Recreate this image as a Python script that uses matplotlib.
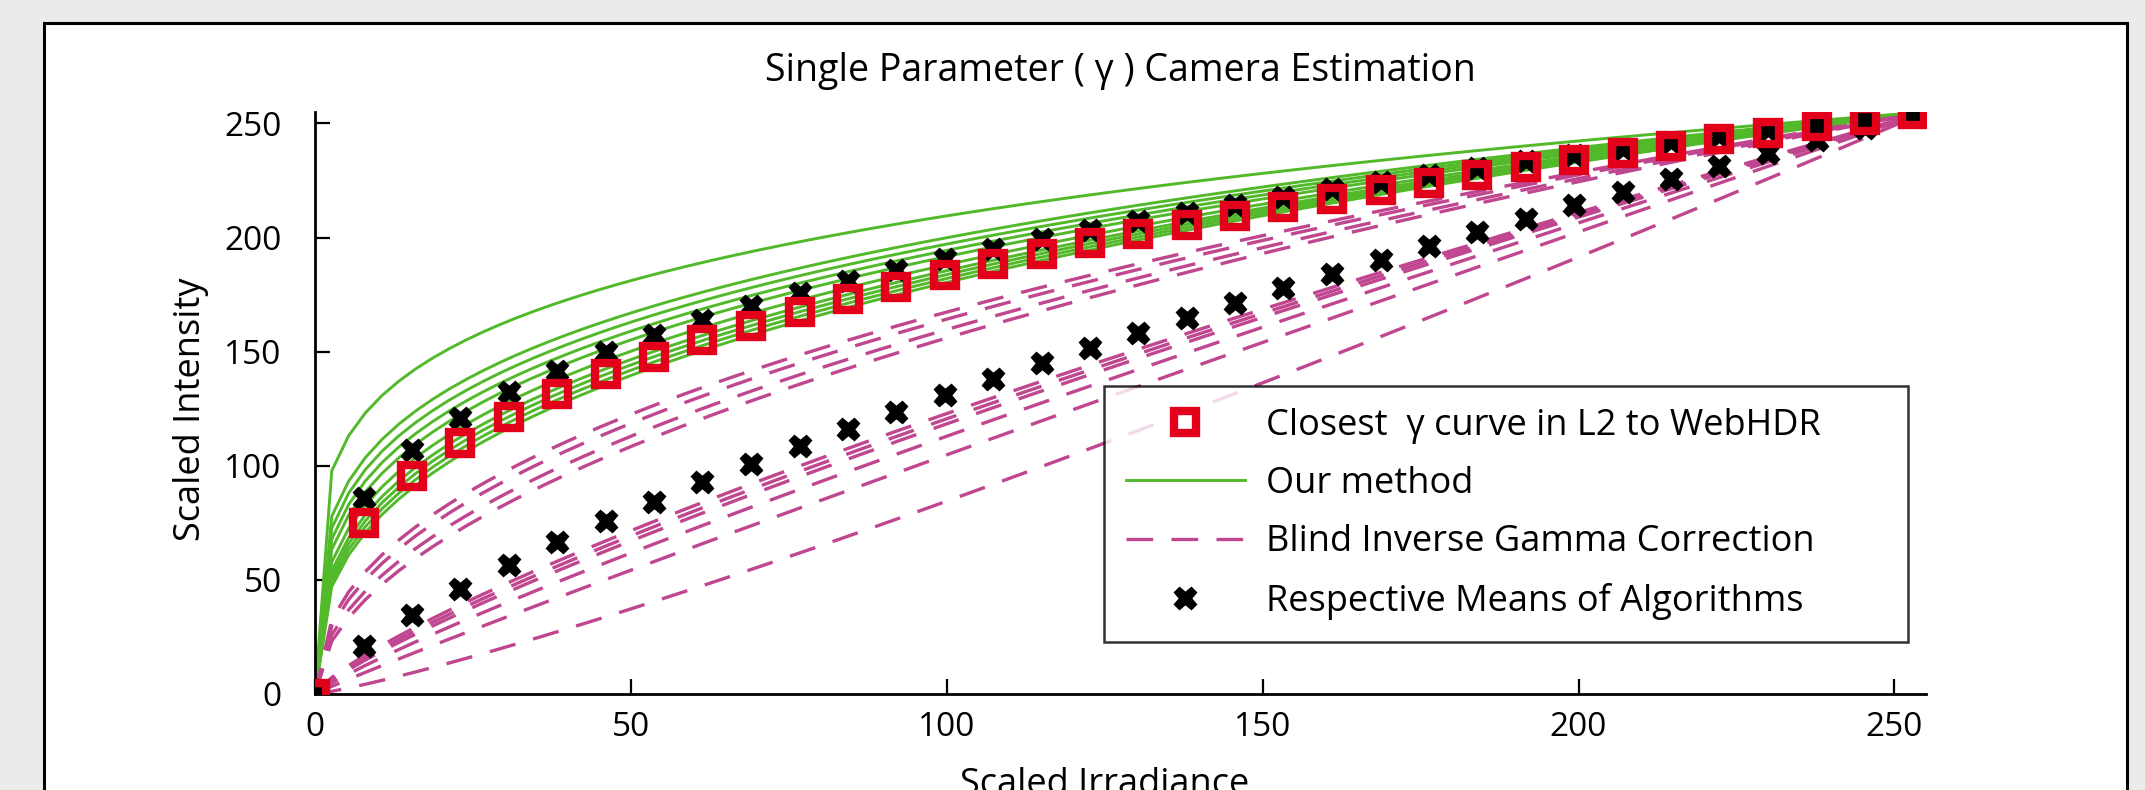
import numpy as np
import matplotlib
matplotlib.use("Agg")
import matplotlib.pyplot as plt
from matplotlib.patches import Rectangle

plt.rcParams["font.family"] = ["Open Sans", "DejaVu Sans"]

# gamma exponents of the per-image curves (y = 255 * (x/255) ** g)
green_gammas = [0.21, 0.26, 0.275, 0.29, 0.305, 0.325, 0.34, 0.35, 0.36, 0.37]
magenta_gammas = [0.45, 0.47, 0.50, 0.525, 0.78, 0.80, 0.82, 0.87, 0.95, 1.18]

# marker sample positions (scaled irradiance)
marker_x = [0, 7.7, 15.3, 23.0, 30.7, 38.3, 46.0, 53.7, 61.3, 69.0, 76.7,
            84.3, 92.0, 99.7, 107.3, 115.0, 122.7, 130.3, 138.0, 145.7, 153.3,
            161.0, 168.7, 176.3, 184.0, 191.7, 199.3, 207.0, 214.7, 222.3,
            230.0, 237.7, 245.3, 253.0]
closest_gamma_y = [0, 74.8, 95.3, 109.9, 121.5, 131.4, 140.0, 147.8, 154.9,
                   161.4, 167.4, 173.1, 178.5, 183.5, 188.4, 193.0, 197.4,
                   201.6, 205.7, 209.6, 213.4, 217.1, 220.7, 224.1, 227.5,
                   230.8, 233.9, 237.0, 240.1, 243.0, 245.9, 248.8, 251.6, 254.3]
ours_mean_y = [0, 86.0, 106.7, 120.9, 132.2, 141.7, 150.0, 157.3, 163.9, 170.0,
               175.7, 180.9, 185.9, 190.6, 195.0, 199.2, 203.2, 207.1, 210.8,
               214.4, 217.8, 221.1, 224.3, 227.4, 230.4, 233.4, 236.3, 239.0,
               241.7, 244.4, 247.0, 249.5, 252.0, 254.4]
blind_mean_y = [0, 21.2, 34.7, 46.2, 56.7, 66.4, 75.6, 84.3, 92.7, 100.8, 108.6,
                116.3, 123.7, 130.9, 138.0, 144.9, 151.7, 158.3, 164.9, 171.4,
                177.7, 184.0, 190.1, 196.2, 202.3, 208.2, 214.1, 219.9, 225.6,
                231.4, 237.0, 242.6, 248.1, 253.6]

GREEN = "#52b92b"
MAGENTA = "#c0468f"
RED = "#e2001a"

W, H = 2145, 790
fig = plt.figure(figsize=(W / 100, H / 100), dpi=100, facecolor="#ebebeb")
# white panel with black frame (bottom runs off the image)
panel = Rectangle((44 / W, -0.05), (2127 - 44) / W, 1.05 - 23 / H,
                  transform=fig.transFigure, facecolor="white",
                  edgecolor="black", linewidth=2.2, zorder=-5)
fig.patches.append(panel)

ax = fig.add_axes([315 / W, 96 / H, (1926 - 315) / W, (694 - 112) / H])
ax.set_zorder(2)
ax.set_facecolor("none")

xc = np.linspace(0, 255, 97)
for i, g in enumerate(green_gammas):
    ax.plot(xc, 255 * (xc / 255) ** g, color=GREEN, lw=2.1, zorder=2,
            label="Our method" if i == 0 else None)
for i, g in enumerate(magenta_gammas):
    ax.plot(xc, 255 * (xc / 255) ** g, color=MAGENTA, lw=2.4, zorder=2,
            dashes=(8, 5.5), label="Blind Inverse Gamma Correction" if i == 0 else None)

ax.plot(marker_x, ours_mean_y, ls="none", marker="X", ms=16, color="black",
        mec="black", zorder=3, label="Respective Means of Algorithms")
ax.plot(marker_x, blind_mean_y, ls="none", marker="X", ms=16, color="black",
        mec="black", zorder=3)
ax.plot(marker_x, closest_gamma_y, ls="none", marker="s", ms=16, mfc="none",
        mec=RED, mew=6, zorder=4, label="Closest  \u03b3 curve in L2 to WebHDR")

ax.set_xlim(0, 255)
ax.set_ylim(0, 255)
ax.set_xticks([0, 50, 100, 150, 200, 250])
ax.set_yticks([0, 50, 100, 150, 200, 250])
for s in ["top", "right"]:
    ax.spines[s].set_visible(False)
for s in ["left", "bottom"]:
    ax.spines[s].set_linewidth(2.0)
ax.tick_params(direction="in", length=11, width=1.6, labelsize=24)
ax.tick_params(axis="x", pad=12)
ax.tick_params(axis="y", pad=24)

ax.set_title("Single Parameter ( \u03b3 ) Camera Estimation", fontsize=27, pad=22)
ax.set_xlabel("Scaled Irradiance", fontsize=26)
ax.set_ylabel("Scaled Intensity", fontsize=26)
ax.xaxis.set_label_coords((1105 - 315) / 1611, -0.126)
ax.yaxis.set_label_coords(-0.066, 0.49)

h, l = ax.get_legend_handles_labels()
order = [3, 0, 1, 2]
leg = ax.legend([h[i] for i in order], [l[i] for i in order],
                loc="upper left",
                bbox_to_anchor=((1104 - 315) / 1611, (694 - 632) / 582,
                                804 / 1611, 246 / 582),
                mode="expand", borderaxespad=0, fontsize=26, frameon=True,
                fancybox=False, edgecolor="black", handlelength=3.3,
                labelspacing=0.62, borderpad=0.6, handletextpad=0.6)
leg.get_frame().set_linewidth(1.8)

fig.savefig("out.png", dpi=100, facecolor=fig.get_facecolor())
